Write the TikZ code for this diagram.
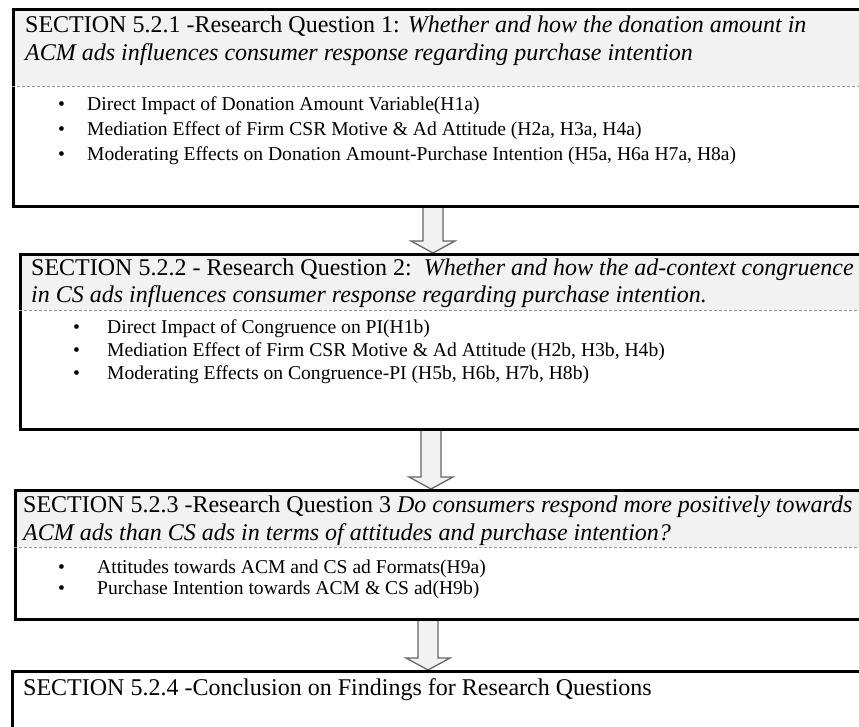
\documentclass[tikz,border=0pt]{standalone}
\usepackage{fontspec}
\setmainfont{Liberation Serif}
\usetikzlibrary{calc, backgrounds}

\tikzset{
  rqbox/.style={draw, line width=2.5pt, anchor=north west, minimum width=870pt, inner sep=0pt},
  headband/.style={fill=black!5},
  headrule/.style={draw=black!40, line width=0.75pt, dash pattern=on 3pt off 2pt},
  headline/.style={anchor=base west, inner sep=0pt, font=\fontsize{24}{28}\selectfont},
  itemline/.style={anchor=base west, inner sep=0pt, font=\fontsize{19.6}{23}\selectfont},
  flowarrow/.style={draw=black!60, fill=black!5, line width=1.3pt, line join=miter},
}

\newcommand{\itm}[2][29pt]{\makebox[#1][l]{\textbullet}#2}

% hollow block arrow from the bottom of one box to the top of the next
\newcommand{\rqarrow}[3]{%
  \path[flowarrow] let \p1=(#1,0 |- #2.south), \p2=(#1,0 |- #3.north) in
    (\x1-10pt,\y1) -- (\x1-10pt,\y2+12pt) -- (\x1-22pt,\y2+12pt) -- (\p2)
    -- (\x1+22pt,\y2+12pt) -- (\x1+10pt,\y2+12pt) -- (\x1+10pt,\y1);}

\begin{document}
\begin{tikzpicture}[x=1pt, y=-1pt]
  \useasboundingbox (0,0) rectangle (859,726);

  % research question 1
  \node[rqbox, minimum height=197pt] (rq1) at (12,8) {};
  \node[headline] (rq1t1) at (25,32) {SECTION 5.2.1 -Research Question 1: \textit{Whether and how the donation amount in}};
  \node[headline] (rq1t2) at (25,60) {\textit{ACM ads influences consumer response regarding purchase intention}};
  \draw[headrule] (rq1.west |- 0,86) -- (rq1.east |- 0,86);
  \node[itemline] (rq1a) at (58,110) {\itm{Direct Impact of Donation Amount Variable(H1a)}};
  \node[itemline] (rq1b) at (58,135) {\itm{Mediation Effect of Firm CSR Motive \& Ad Attitude (H2a, H3a, H4a)}};
  \node[itemline] (rq1c) at (58,160) {\itm{Moderating Effects on Donation Amount-Purchase Intention (H5a, H6a H7a, H8a)}};

  % research question 2
  \node[rqbox, minimum height=175pt] (rq2) at (19,253) {};
  \node[headline] (rq2t1) at (31,275) {SECTION 5.2.2 - Research Question 2:\ \ \textit{Whether and how the ad-context congruence}};
  \node[headline] (rq2t2) at (31,302) {\textit{in CS ads influences consumer response regarding purchase intention.}};
  \draw[headrule] (rq2.west |- 0,310) -- (rq2.east |- 0,310);
  \node[itemline] (rq2a) at (73,333) {\itm[34pt]{Direct Impact of Congruence on PI(H1b)}};
  \node[itemline] (rq2b) at (73,356) {\itm[34pt]{Mediation Effect of Firm CSR Motive \& Ad Attitude (H2b, H3b, H4b)}};
  \node[itemline] (rq2c) at (73,379) {\itm[34pt]{Moderating Effects on Congruence-PI (H5b, H6b, H7b, H8b)}};

  % research question 3
  \node[rqbox, minimum height=129pt] (rq3) at (14,489) {};
  \node[headline] (rq3t1) at (23,512) {SECTION 5.2.3 -Research Question 3 \textit{Do consumers respond more positively towards}};
  \node[headline] (rq3t2) at (23,540) {\textit{ACM ads than CS ads in terms of attitudes and purchase intention?}};
  \draw[headrule] (rq3.west |- 0,547) -- (rq3.east |- 0,547);
  \node[itemline] (rq3a) at (58,573) {\itm[39pt]{Attitudes towards ACM and CS ad Formats(H9a)}};
  \node[itemline] (rq3b) at (58,594) {\itm[39pt]{Purchase Intention towards ACM \& CS ad(H9b)}};

  % conclusion
  \node[rqbox, minimum height=90pt] (concl) at (11,670) {};
  \node[headline] (conclt) at (23,695) {SECTION 5.2.4 -Conclusion on Findings for Research Questions};

  \begin{scope}[on background layer]
    \fill[headband] (rq1.north west) rectangle (rq1.east |- 0,86);
    \fill[headband] (rq2.north west) rectangle (rq2.east |- 0,310);
    \fill[headband] (rq3.north west) rectangle (rq3.east |- 0,547);
    \rqarrow{433}{rq1}{rq2}
    \rqarrow{431}{rq2}{rq3}
    \rqarrow{428}{rq3}{concl}
  \end{scope}
\end{tikzpicture}
\end{document}
